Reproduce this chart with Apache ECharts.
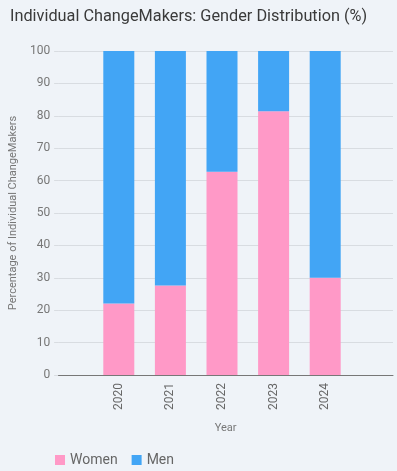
<!DOCTYPE html>
<html lang="en">
<head>
    <meta charset="UTF-8">
    <title>Individual ChangeMakers: Gender Distribution (%)</title>
    <script src="https://cdn.jsdelivr.net/npm/echarts@6.0.0/dist/echarts.min.js"></script>
    <style>
        html, body { margin: 0; padding: 0; background: #eff3f8; }
        #chart { width: 397px; height: 471px; }
    </style>
</head>
<body>
    <div id="chart"></div>
    <script>
        // data
        const years = ['2020', '2021', '2022', '2023', '2024'];
        const women = [22.1, 27.6, 62.7, 81.4, 30.0];
        const men = [77.9, 72.4, 37.3, 18.6, 70.0];

        const chart = echarts.init(document.getElementById('chart'));
        const font = 'Roboto, "Noto Sans", sans-serif';

        // grid 0 carries the frame (y labels, grid lines, x axis line),
        // grid 1 is narrower and holds the bars, since the axis runs wider than the bars
        const option = {
            backgroundColor: '#eff3f8',
            textStyle: { fontFamily: font },
            title: {
                text: 'Individual ChangeMakers: Gender Distribution (%)',
                left: 5,
                top: 4,
                textStyle: { fontSize: 16.3, fontWeight: 'normal', color: '#3a3a3a', fontFamily: font }
            },
            legend: {
                data: ['Women', 'Men'],
                left: 50,
                top: 448,
                icon: 'rect',
                itemWidth: 10,
                itemHeight: 10,
                itemGap: 14,
                textStyle: { fontSize: 14, color: '#666', fontFamily: font }
            },
            grid: [
                { left: 52, right: 4, top: 51, bottom: 96 },
                { left: 93, right: 46, top: 51, bottom: 96 }
            ],
            xAxis: [
                {
                    type: 'value',
                    gridIndex: 0,
                    min: 0,
                    max: 1,
                    name: 'Year',
                    nameLocation: 'middle',
                    nameGap: 48,
                    nameTextStyle: { fontSize: 11, color: '#777' },
                    axisLine: { show: true, lineStyle: { color: '#777' } },
                    axisTick: { show: false },
                    axisLabel: { show: false },
                    splitLine: { show: false }
                },
                {
                    type: 'category',
                    gridIndex: 1,
                    data: years,
                    axisLine: { show: false },
                    axisTick: { show: false },
                    axisLabel: { rotate: 90, margin: 8, fontSize: 12, color: '#666' }
                }
            ],
            yAxis: [
                {
                    type: 'value',
                    gridIndex: 0,
                    min: 0,
                    max: 100,
                    interval: 10,
                    name: 'Percentage of Individual ChangeMakers',
                    nameLocation: 'middle',
                    nameGap: 38,
                    nameTextStyle: { fontSize: 11, color: '#777' },
                    axisLine: { show: false },
                    axisTick: { show: true, length: 4, lineStyle: { color: '#d8dce1' } },
                    axisLabel: { margin: 8, fontSize: 12, color: '#777' },
                    splitLine: { show: true, lineStyle: { color: '#d8dce1' } }
                },
                {
                    type: 'value',
                    gridIndex: 1,
                    min: 0,
                    max: 100,
                    show: false
                }
            ],
            series: [
                {
                    name: 'Women',
                    type: 'bar',
                    stack: 'total',
                    xAxisIndex: 1,
                    yAxisIndex: 1,
                    barWidth: 31,
                    data: women,
                    itemStyle: { color: '#ff99c7' }
                },
                {
                    name: 'Men',
                    type: 'bar',
                    stack: 'total',
                    xAxisIndex: 1,
                    yAxisIndex: 1,
                    barWidth: 31,
                    data: men,
                    itemStyle: { color: '#42a5f5' }
                }
            ]
        };

        chart.setOption(option);
    </script>
</body>
</html>
